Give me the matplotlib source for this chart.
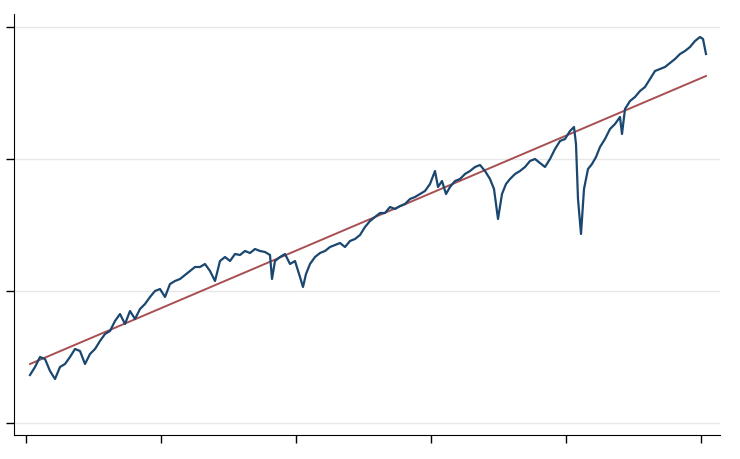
import numpy as np
import matplotlib
matplotlib.use("Agg")
import matplotlib.pyplot as plt

# series (x in tick units 0..5, y in tick units 0..3)
px_x = [30, 35, 40, 45, 50, 55, 60, 65, 70, 75, 80, 85, 90, 95, 100, 105, 110, 115, 120, 125,
        130, 135, 140, 145, 150, 155, 160, 165, 170, 175, 180, 185, 190, 195, 200, 205, 210, 215,
        220, 225, 230, 235, 240, 245, 250, 255, 260, 265, 270, 272, 275, 280, 285, 290, 295, 300,
        303, 306, 310, 315, 320, 325, 330, 335, 340, 345, 350, 355, 360, 365, 370, 375, 380, 385,
        390, 395, 400, 405, 410, 415, 420, 425, 430, 435, 438, 442, 446, 450, 455, 460, 465, 470,
        475, 480, 485, 490, 494, 498, 502, 506, 510, 515, 520, 525, 530, 535, 540, 545, 550, 555,
        560, 565, 570, 574, 576, 578, 581, 584, 588, 592, 596, 600, 605, 610, 615, 620, 622, 625,
        630, 635, 640, 645, 650, 655, 660, 665, 670, 675, 680, 685, 690, 695, 700, 703, 706]
px_y = [376, 368, 358, 360, 372, 380, 368, 365, 358, 350, 352, 365, 355, 350, 342, 335, 332, 322,
        315, 325, 312, 320, 310, 305, 298, 292, 290, 298, 285, 282, 280, 276, 272, 268, 268, 265,
        272, 282, 262, 258, 262, 255, 256, 252, 254, 250, 252, 253, 256, 280, 262, 258, 255, 265,
        262, 278, 288, 275, 265, 258, 254, 252, 248, 246, 244, 248, 242, 240, 236, 228, 222, 218,
        214, 214, 208, 210, 207, 205, 200, 198, 195, 192, 185, 172, 188, 182, 195, 188, 182, 180,
        175, 172, 168, 166, 172, 180, 190, 220, 195, 185, 180, 175, 172, 168, 162, 160, 164, 168,
        160, 150, 142, 140, 132, 128, 145, 200, 235, 190, 170, 165, 158, 148, 140, 130, 125, 118,
        135, 110, 102, 98, 92, 88, 80, 72, 70, 68, 64, 60, 55, 52, 48, 42, 38, 40, 55]
x = (np.array(px_x) - 26) / 135.0
y = (424 - np.array(px_y)) / 132.0

trend_x = [(30 - 26) / 135.0, (706 - 26) / 135.0]
trend_y = [(424 - 365) / 132.0, (424 - 77) / 132.0]

fig = plt.figure(figsize=(7.4, 4.6), dpi=100)
ax = fig.add_axes([14 / 740, 24 / 460, 706 / 740, 421 / 460])
ax.plot(trend_x, trend_y, color="#a84f52", lw=1.4, zorder=2)
ax.plot(x, y, color="#1a476f", lw=1.6, zorder=3)

ax.set_xlim(-12 / 135, (720 - 26) / 135)
ax.set_ylim(-12 / 132, (424 - 15) / 132)
ax.set_xticks(range(6))
ax.set_yticks(range(4))
ax.set_xticklabels([])
ax.set_yticklabels([])
ax.tick_params(direction="out", length=6, width=1)
ax.grid(axis="y", color="#e8e8e8", lw=1)
ax.set_axisbelow(True)
for s in ["top", "right"]:
    ax.spines[s].set_visible(False)

fig.savefig("out.png", dpi=100)
